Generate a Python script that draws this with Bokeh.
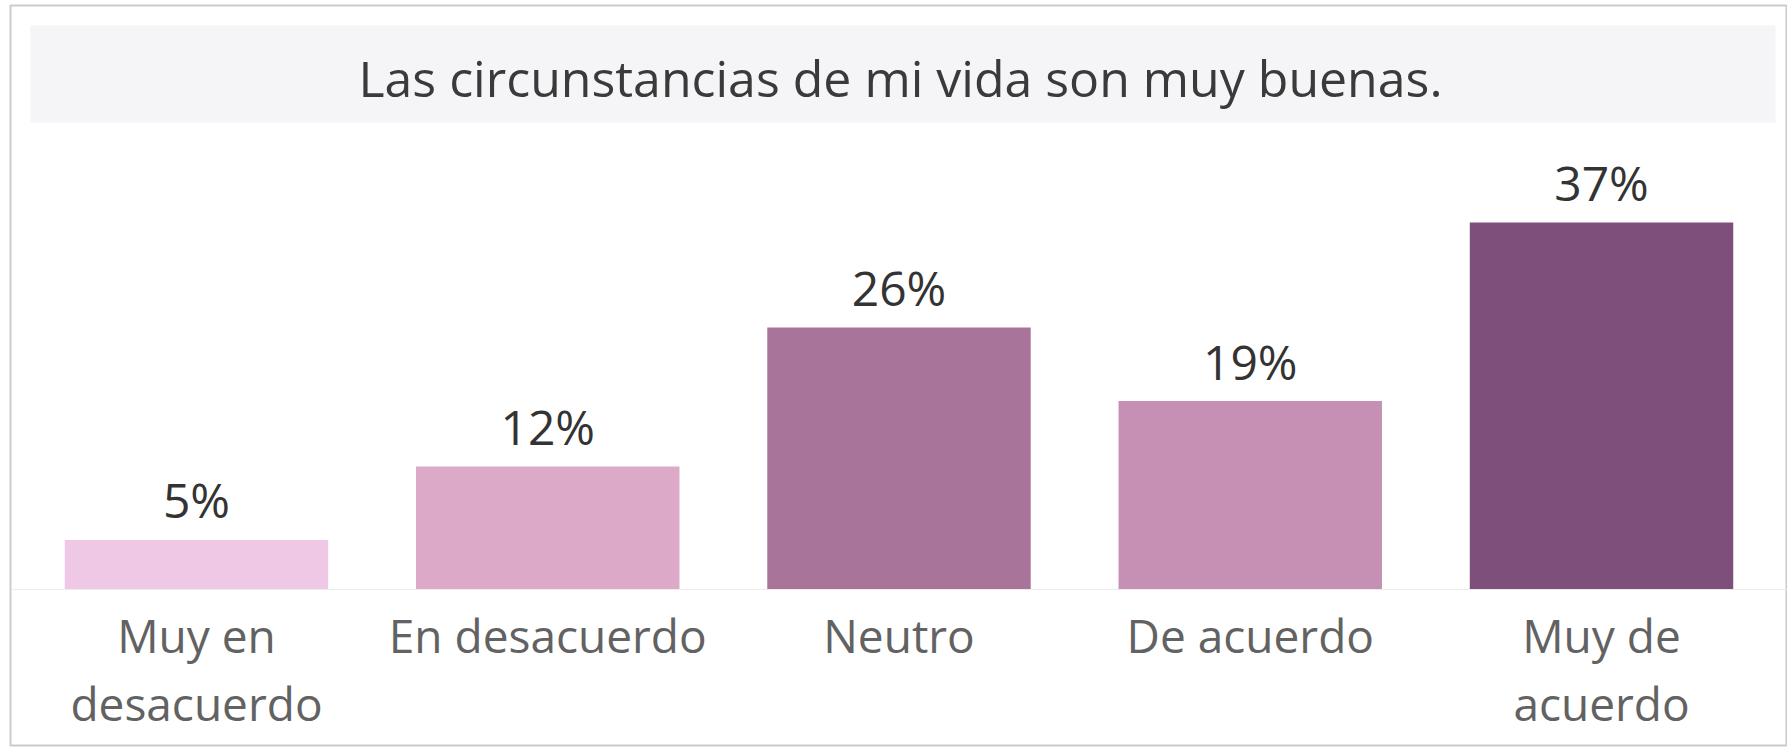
from bokeh.plotting import figure
from bokeh.models import FactorRange, Range1d, ColumnDataSource, BoxAnnotation, Label, Span
from bokeh.core.properties import value
from bokeh.embed import file_html
from bokeh.resources import INLINE

# ---- data ----
categories = ["Muy en desacuerdo", "En desacuerdo", "Neutro", "De acuerdo", "Muy de acuerdo"]
tick_labels = ["Muy en\ndesacuerdo", "En desacuerdo", "Neutro", "De acuerdo", "Muy de\nacuerdo"]
percentages = [5.0, 12.4, 26.4, 19.0, 37.0]
bar_colors = ["#efc8e6", "#dca9c9", "#a87499", "#c690b5", "#7e4f7b"]
title_text = "Las circunstancias de mi vida son muy buenas."

W, H = 1787, 747
FONT = "Open Sans"
FRAME_TOP = 5
FRAME_H = H - FRAME_TOP - 2

# vertical scale: baseline 584px below frame top, ~9.92 px per percent
k = 9.92
y_top = 584 / k
y_bot = y_top - FRAME_H / k

src = ColumnDataSource(dict(
    cat=categories,
    val=percentages,
    color=bar_colors,
    pct=[f"{round(v)}%" for v in percentages],
    lab=tick_labels,
    zero=[0] * len(categories),
))

p = figure(
    x_range=FactorRange(*categories, range_padding=0.0118),
    y_range=Range1d(y_bot, y_top),
    width=W, height=H,
    output_backend="svg", toolbar_location=None,
    min_border_left=10, min_border_right=0, min_border_top=FRAME_TOP, min_border_bottom=2,
)
p.xaxis.visible = False
p.yaxis.visible = False
p.xgrid.visible = False
p.ygrid.visible = False
p.background_fill_color = "white"
p.border_fill_color = "white"
p.outline_line_color = "#cbcbcb"
p.outline_line_width = 2

# title band
band = BoxAnnotation(
    left=20, right=1765, left_units="screen", right_units="screen",
    top=y_top - 20 / k, bottom=y_top - 117 / k,
    fill_color="#f5f4f7", fill_alpha=1.0, line_color=None, level="underlay",
)
p.add_layout(band)

p.add_layout(Label(
    x=890, x_units="screen", y=y_top - 72 / k, text=title_text,
    text_align="center", text_baseline="alphabetic",
    text_font=FONT, text_font_size="50px", text_color="#3a3a3a",
))

# baseline
p.add_layout(Span(location=0, dimension="width", line_color="#ececec", line_width=1))

p.vbar(x="cat", top="val", width=0.75, color="color", source=src, line_color=None)

p.text(x="cat", y="val", text="pct", source=src,
       text_align="center", text_baseline="alphabetic", y_offset=-40,
       text_font=value(FONT), text_font_size="48px", text_color="#333333")

p.text(x="cat", y="zero", text="lab", source=src,
       text_align="center", text_baseline="top", y_offset=14, text_line_height=1.1,
       text_font=value(FONT), text_font_size="46px", text_color="#626262")

open("out.html", "w").write(file_html(p, INLINE))
